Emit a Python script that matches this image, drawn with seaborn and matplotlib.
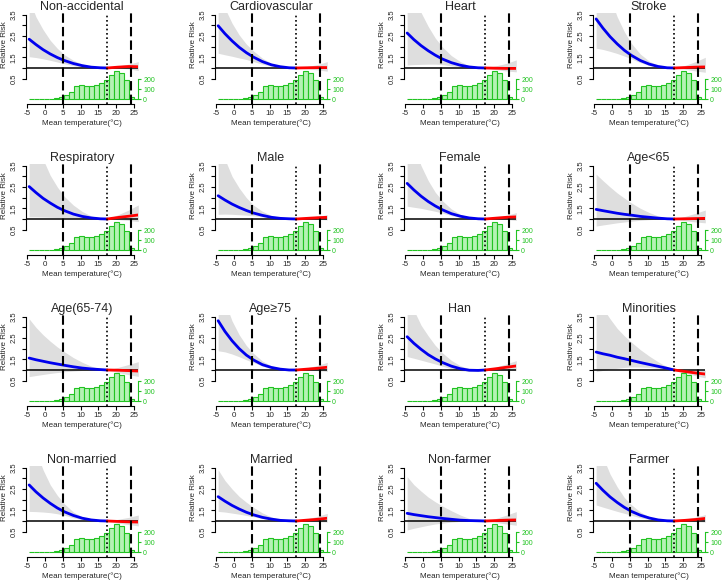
import numpy as np
import pandas as pd
import matplotlib
matplotlib.use("Agg")
import matplotlib.pyplot as plt
import seaborn as sns

temps = [-4.4, -2.5, -0.5, 1.5, 3.5, 5.5, 8.0, 10.5, 13.0, 15.5, 17.5, 20.5, 23.5, 26.2]
mmt = 17.5
cut_cold, cut_hot = 5.1, 24.1

titles = ["Non-accidental", "Cardiovascular", "Heart", "Stroke",
          "Respiratory", "Male", "Female", "Age<65",
          "Age(65-74)", "Age\u226575", "Han", "Minorities",
          "Non-married", "Married", "Non-farmer", "Farmer"]

rr_est = [
    [2.35, 2.10, 1.86, 1.66, 1.49, 1.35, 1.21, 1.11, 1.04, 1.01, 1.00, 1.04, 1.07, 1.06],
    [2.98, 2.61, 2.27, 1.97, 1.72, 1.51, 1.30, 1.15, 1.06, 1.01, 1.00, 1.01, 1.02, 1.02],
    [2.64, 2.33, 2.05, 1.81, 1.60, 1.42, 1.25, 1.13, 1.05, 1.01, 1.00, 0.99, 0.98, 0.98],
    [3.30, 2.87, 2.47, 2.13, 1.83, 1.59, 1.35, 1.18, 1.07, 1.01, 1.00, 1.02, 1.04, 1.05],
    [2.52, 2.24, 1.97, 1.75, 1.55, 1.39, 1.23, 1.12, 1.05, 1.01, 1.00, 1.07, 1.13, 1.19],
    [2.09, 1.89, 1.70, 1.54, 1.40, 1.28, 1.17, 1.08, 1.03, 1.01, 1.00, 1.03, 1.06, 1.08],
    [2.67, 2.36, 2.07, 1.82, 1.61, 1.43, 1.25, 1.13, 1.05, 1.01, 1.00, 1.04, 1.08, 1.10],
    [1.45, 1.39, 1.33, 1.27, 1.22, 1.18, 1.12, 1.08, 1.04, 1.01, 1.00, 1.01, 1.02, 1.03],
    [1.56, 1.48, 1.41, 1.34, 1.28, 1.22, 1.15, 1.09, 1.05, 1.02, 1.00, 0.99, 0.97, 0.95],
    [3.31, 2.81, 2.37, 2.00, 1.70, 1.47, 1.25, 1.12, 1.04, 1.00, 1.00, 1.04, 1.08, 1.13],
    [2.56, 2.25, 1.97, 1.72, 1.52, 1.35, 1.18, 1.06, 0.99, 0.98, 1.00, 1.06, 1.13, 1.19],
    [1.84, 1.76, 1.69, 1.60, 1.53, 1.45, 1.35, 1.26, 1.17, 1.08, 1.00, 0.93, 0.86, 0.81],
    [2.69, 2.37, 2.08, 1.83, 1.61, 1.43, 1.26, 1.13, 1.05, 1.01, 1.00, 0.98, 0.96, 0.95],
    [2.14, 1.93, 1.73, 1.56, 1.41, 1.29, 1.17, 1.09, 1.03, 1.01, 1.00, 1.04, 1.08, 1.13],
    [1.36, 1.30, 1.25, 1.20, 1.16, 1.12, 1.08, 1.04, 1.02, 1.01, 1.00, 1.02, 1.04, 1.05],
    [2.77, 2.44, 2.13, 1.87, 1.64, 1.45, 1.27, 1.14, 1.05, 1.01, 1.00, 1.03, 1.07, 1.12],
]

rr_hi = [
    [4.2, 3.4, 2.8, 2.3, 1.92, 1.62, 1.36, 1.18, 1.07, 1.01, 1.00, 1.09, 1.18, 1.30],
    [4.6, 3.8, 3.1, 2.55, 2.12, 1.8, 1.46, 1.22, 1.08, 1.02, 1.00, 1.07, 1.16, 1.30],
    [5.5, 4.5, 3.6, 2.95, 2.4, 1.98, 1.58, 1.3, 1.1, 1.02, 1.00, 1.1, 1.22, 1.38],
    [6.5, 5.3, 4.3, 3.4, 2.7, 2.15, 1.65, 1.32, 1.12, 1.02, 1.00, 1.12, 1.3, 1.5],
    [6.0, 4.8, 3.8, 3.05, 2.5, 2.05, 1.65, 1.35, 1.14, 1.03, 1.00, 1.2, 1.42, 1.66],
    [4.8, 3.8, 3.0, 2.45, 2.0, 1.65, 1.36, 1.17, 1.06, 1.01, 1.00, 1.07, 1.13, 1.2],
    [5.5, 4.4, 3.5, 2.8, 2.25, 1.85, 1.47, 1.22, 1.08, 1.02, 1.00, 1.09, 1.17, 1.3],
    [3.1, 2.8, 2.5, 2.22, 1.98, 1.75, 1.5, 1.3, 1.14, 1.04, 1.00, 1.12, 1.27, 1.42],
    [3.4, 3.0, 2.65, 2.35, 2.08, 1.85, 1.58, 1.36, 1.18, 1.05, 1.00, 1.12, 1.26, 1.39],
    [5.5, 4.2, 3.3, 2.65, 2.15, 1.78, 1.42, 1.2, 1.07, 1.01, 1.00, 1.1, 1.22, 1.36],
    [5.0, 3.8, 3.1, 2.6, 2.15, 1.8, 1.45, 1.2, 1.06, 1.0, 1.00, 1.14, 1.29, 1.44],
    [4.5, 3.9, 3.4, 2.95, 2.6, 2.3, 1.95, 1.65, 1.38, 1.15, 1.00, 0.99, 0.98, 0.99],
    [5.5, 4.3, 3.4, 2.7, 2.2, 1.8, 1.42, 1.19, 1.06, 1.01, 1.00, 1.08, 1.17, 1.28],
    [3.4, 2.9, 2.5, 2.15, 1.88, 1.64, 1.38, 1.19, 1.07, 1.01, 1.00, 1.1, 1.22, 1.36],
    [3.08, 2.7, 2.4, 2.12, 1.9, 1.7, 1.48, 1.28, 1.12, 1.03, 1.00, 1.12, 1.28, 1.44],
    [5.0, 4.0, 3.2, 2.6, 2.1, 1.76, 1.42, 1.2, 1.07, 1.01, 1.00, 1.08, 1.18, 1.3],
]

rr_lo = [
    [1.53, 1.49, 1.43, 1.36, 1.28, 1.2, 1.11, 1.05, 1.02, 1.0, 1.0, 0.99, 0.96, 0.88],
    [1.69, 1.62, 1.55, 1.47, 1.4, 1.3, 1.18, 1.09, 1.03, 1.0, 1.0, 0.96, 0.91, 0.85],
    [1.14, 1.16, 1.17, 1.18, 1.18, 1.16, 1.1, 1.05, 1.02, 1.0, 1.0, 0.92, 0.86, 0.82],
    [1.93, 1.87, 1.78, 1.68, 1.56, 1.43, 1.25, 1.12, 1.04, 1.0, 1.0, 0.94, 0.86, 0.8],
    [1.1, 1.1, 1.09, 1.08, 1.07, 1.06, 1.04, 1.02, 1.01, 1.0, 1.0, 0.97, 0.93, 0.88],
    [1.22, 1.23, 1.22, 1.2, 1.18, 1.15, 1.1, 1.05, 1.02, 1.0, 1.0, 0.99, 0.98, 0.96],
    [1.6, 1.55, 1.5, 1.43, 1.36, 1.28, 1.16, 1.08, 1.03, 1.0, 1.0, 0.99, 0.98, 0.93],
    [0.67, 0.72, 0.77, 0.82, 0.86, 0.9, 0.94, 0.97, 0.99, 1.0, 1.0, 0.92, 0.86, 0.82],
    [0.69, 0.74, 0.79, 0.84, 0.88, 0.92, 0.95, 0.98, 0.99, 1.0, 1.0, 0.88, 0.78, 0.7],
    [1.9, 1.85, 1.75, 1.62, 1.48, 1.35, 1.18, 1.07, 1.02, 1.0, 1.0, 0.99, 0.97, 0.93],
    [1.63, 1.55, 1.46, 1.37, 1.28, 1.18, 1.06, 0.97, 0.93, 0.95, 1.0, 1.0, 0.99, 0.97],
    [0.92, 0.98, 1.04, 1.08, 1.12, 1.14, 1.14, 1.12, 1.08, 1.04, 1.0, 0.86, 0.73, 0.63],
    [1.45, 1.44, 1.42, 1.39, 1.34, 1.27, 1.15, 1.07, 1.03, 1.0, 1.0, 0.9, 0.83, 0.77],
    [1.45, 1.42, 1.37, 1.32, 1.26, 1.2, 1.11, 1.05, 1.02, 1.0, 1.0, 0.99, 0.97, 0.95],
    [0.58, 0.66, 0.73, 0.8, 0.86, 0.9, 0.95, 0.98, 0.99, 1.0, 1.0, 0.93, 0.86, 0.8],
    [1.75, 1.65, 1.55, 1.45, 1.36, 1.27, 1.15, 1.07, 1.03, 1.0, 1.0, 0.99, 0.97, 0.95],
]

# daily mean temperature distribution (same for every panel)
hist_left = [-4.4, -3.0, -1.6, -0.2, 1.2, 2.6, 4.0, 5.4, 6.8, 8.2, 9.6, 11.0,
             12.4, 13.8, 15.2, 16.6, 18.0, 19.4, 20.8, 22.2, 23.6, 25.0]
hist_counts = [3, 4, 5, 6, 8, 12, 25, 40, 75, 130, 140, 130,
               135, 145, 165, 190, 240, 280, 265, 190, 20, 5]
bin_w = 1.4

sns.set_theme(style="white")
plt.rcParams['font.family'] = ['Liberation Sans', 'DejaVu Sans']
plt.rcParams['axes.unicode_minus'] = False

W, H = 723, 584
fig = plt.figure(figsize=(W / 100, H / 100), dpi=100)

green = '#22c322'
edges = hist_left + [hist_left[-1] + bin_w]
centers = [v + bin_w / 2 for v in hist_left]

for i, name in enumerate(titles):
    r, c = divmod(i, 4)
    left = 25.5 + 189 * c
    top = 13.3 + 151 * r
    ax = fig.add_axes([left / W, 1 - (top + 90.7) / H, 112.8 / W, 90.7 / H])

    df = pd.DataFrame({'temp': temps, 'rr': rr_est[i], 'lo': rr_lo[i], 'hi': rr_hi[i]})
    ax.fill_between(df.temp, df.lo, df.hi, color='#dedede', lw=0, zorder=1)
    ax.axhline(1, color='black', lw=1.1, zorder=2)
    sns.lineplot(data=df[df.temp <= mmt], x='temp', y='rr', color='#0000ee',
                 lw=2, ax=ax, zorder=3)
    sns.lineplot(data=df[df.temp >= mmt], x='temp', y='rr', color='#ff0000',
                 lw=2, ax=ax, zorder=3)

    ax.set_xlim(-5.42, 26.2)
    ax.set_ylim(-0.688, 3.564)
    for s in ['top', 'right']:
        ax.spines[s].set_visible(False)
    ax.spines['left'].set_bounds(0.5, 3.5)
    ax.spines['bottom'].set_bounds(-5, 25)
    for s in ['left', 'bottom']:
        ax.spines[s].set_color('black')
        ax.spines[s].set_linewidth(0.8)
    ax.set_xticks([-5, 0, 5, 10, 15, 20, 25])
    ax.set_yticks(np.arange(0.5, 3.51, 0.5))
    ax.set_yticklabels(['0.5', '', '1.5', '', '2.5', '', '3.5'],
                       rotation=90, va='center')
    ax.tick_params(axis='both', direction='out', length=3, width=0.8,
                   color='black', bottom=True, left=True)
    ax.tick_params(axis='x', labelsize=5.8, pad=1)
    ax.tick_params(axis='y', labelsize=5.5, pad=2.5)
    ax.set_xlabel('Mean temperature(\u00b0C)', fontsize=5.8, labelpad=2)
    ax.set_ylabel('Relative Risk', fontsize=5.8)
    ax.yaxis.set_label_coords(-0.155, 0.66)
    ax.set_title(name, fontsize=9, pad=1.5)
    ax.grid(False)

    ax2 = ax.twinx()
    sns.histplot(x=centers, weights=hist_counts, bins=edges, ax=ax2,
                 color='#b5f2b5', edgecolor=green, linewidth=0.8, alpha=1)
    ax2.axvline(cut_cold, color='black', lw=1.5, dashes=(4.5, 2))
    ax2.axvline(cut_hot, color='black', lw=1.5, dashes=(4.5, 2))
    ax2.axvline(mmt, color='black', lw=1.2, dashes=(1, 1.6))
    ax2.set_xlim(-5.42, 26.2)
    ax2.set_ylim(-47, 860)
    for s in ['top', 'left', 'bottom']:
        ax2.spines[s].set_visible(False)
    ax2.spines['right'].set_bounds(0, 200)
    ax2.spines['right'].set_color(green)
    ax2.spines['right'].set_linewidth(0.8)
    ax2.set_yticks([0, 100, 200])
    ax2.tick_params(axis='y', direction='out', length=2, width=0.8, color=green,
                    labelcolor=green, labelsize=5, pad=1.5, right=True)
    ax2.set_ylabel('')
    ax2.grid(False)

fig.savefig('out.png', dpi=100)
